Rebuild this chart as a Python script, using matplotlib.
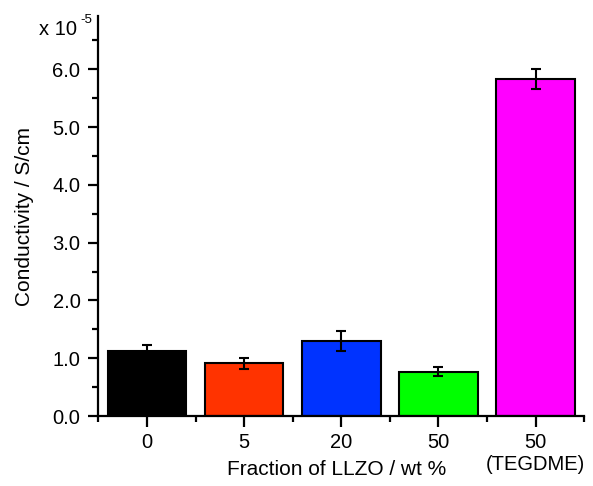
import numpy as np
import matplotlib
matplotlib.use("Agg")
import matplotlib.pyplot as plt
from matplotlib.ticker import MultipleLocator

plt.rcParams['font.family'] = ['Liberation Sans', 'DejaVu Sans']

labels = ['0', '5', '20', '50', '50\n(TEGDME)']
conductivity = [1.12, 0.91, 1.30, 0.77, 5.83]
errors = [0.10, 0.09, 0.17, 0.08, 0.17]
colors = ['#000000', '#ff3300', '#0033ff', '#00ff00', '#ff00ff']

fig = plt.figure(figsize=(5.93, 4.86), dpi=100)
ax = fig.add_axes([0.166, 0.144, 0.819, 0.823])

x = np.arange(len(labels))
ax.bar(x, conductivity, width=0.81, color=colors, edgecolor='black', linewidth=1.5,
       yerr=errors, error_kw=dict(ecolor='black', elinewidth=1.5, capsize=3.6, capthick=1.5))

ax.set_xlim(-0.5, 4.5)
ax.set_ylim(0, 6.92)
ax.set_xticks(x)
ax.set_xticklabels(labels, linespacing=1.25)
ax.xaxis.set_minor_locator(MultipleLocator(1, offset=0.5))
ax.yaxis.set_major_locator(MultipleLocator(1.0))
ax.yaxis.set_minor_locator(MultipleLocator(0.5))
ax.yaxis.set_major_formatter(plt.FuncFormatter(lambda v, p: f"{v:.1f}"))

for s in ['top', 'right']:
    ax.spines[s].set_visible(False)
for s in ['left', 'bottom']:
    ax.spines[s].set_linewidth(1.6)

ax.tick_params(axis='both', which='major', direction='out', length=7, width=1.6,
               labelsize=14.5)
ax.tick_params(axis='both', which='minor', direction='out', length=4, width=1.6)
ax.tick_params(axis='y', which='major', pad=6)
ax.tick_params(axis='x', which='major', length=8, pad=4)

ax.set_xlabel('Fraction of LLZO / wt %', fontsize=15)
ax.set_ylabel('Conductivity / S/cm', fontsize=15)
ax.xaxis.set_label_coords(0.49, -0.11)
ax.yaxis.set_label_coords(-0.133, 0.5)

# scale factor label, top left
fig.text(0.066, 0.94, 'x 10', fontsize=14.5, va='center')
fig.text(0.136, 0.958, '-5', fontsize=9.5, va='center')

fig.savefig('out.png', dpi=100)
